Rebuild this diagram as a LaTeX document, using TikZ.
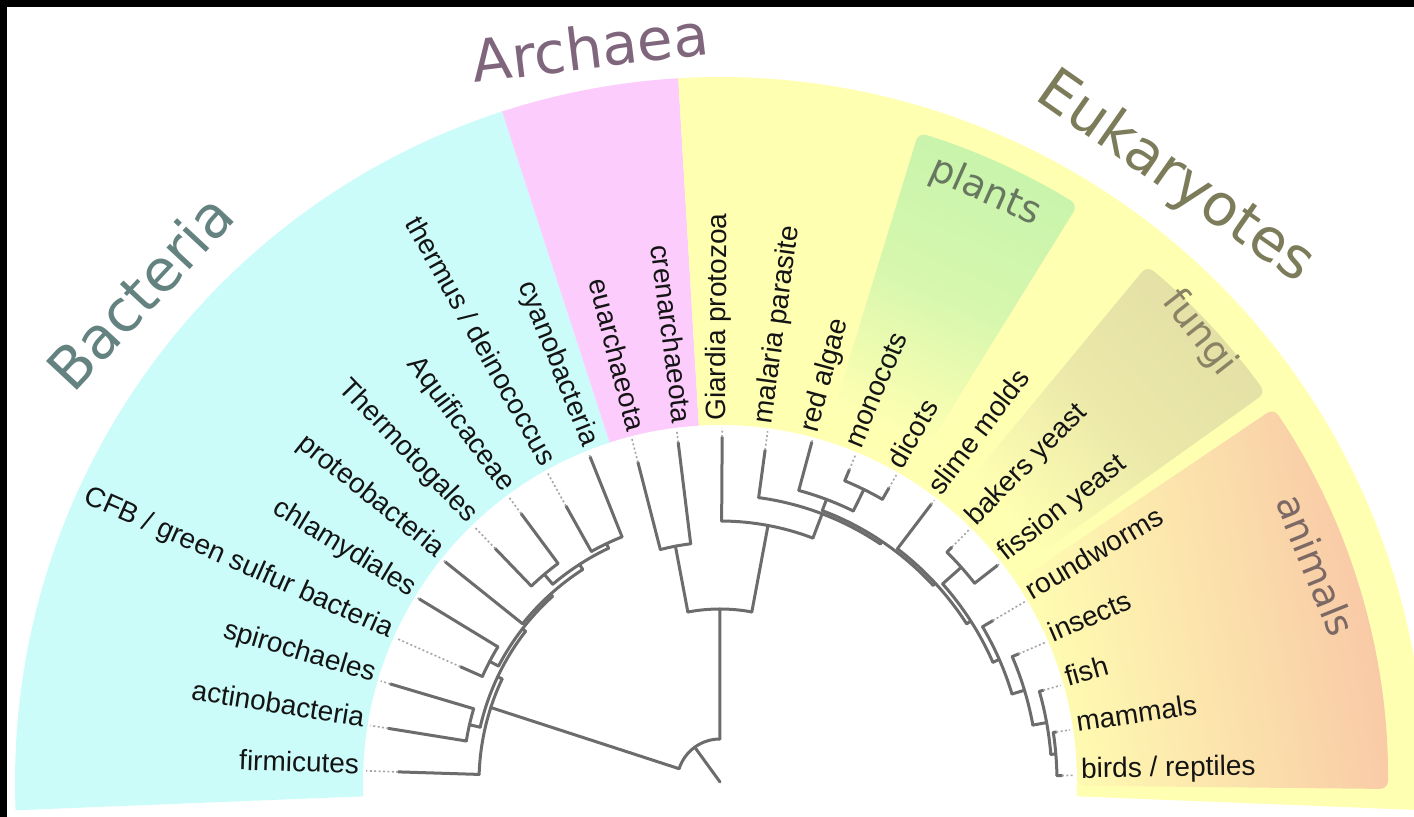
\documentclass[tikz,border=0pt]{standalone}
\usepackage{fontspec}
\setmainfont{Liberation Sans}
\newfontfamily\bigfont{DejaVu Sans}
\definecolor{cyanC}{RGB}{203,252,250}
\definecolor{pinkC}{RGB}{252,204,252}
\definecolor{yellowC}{RGB}{255,255,178}
\definecolor{plantC}{RGB}{200,244,172}
\definecolor{fungiC}{RGB}{228,224,166}
\definecolor{animC}{RGB}{248,198,166}
\definecolor{treeC}{RGB}{108,108,108}
\definecolor{dotC}{RGB}{165,165,165}
\definecolor{labC}{RGB}{20,20,20}
\definecolor{bactT}{RGB}{100,130,128}
\definecolor{archT}{RGB}{128,102,124}
\definecolor{eukT}{RGB}{124,124,90}
\definecolor{plantT}{RGB}{104,120,96}
\definecolor{fungiT}{RGB}{138,130,100}
\definecolor{animT}{RGB}{124,104,100}

\tikzset{
  branch/.style={draw=treeC, line width=1.5pt, line cap=round, line join=round},
  dotline/.style={draw=dotC, line width=0.8pt, dash pattern=on 1pt off 1.2pt},
  leaflab/.style={inner sep=0pt, text=labC, font=\fontsize{14}{16}\selectfont},
  biglab/.style={inner sep=0pt, font=\bigfont\fontsize{29}{32}\selectfont},
  sublab/.style={inner sep=0pt, font=\bigfont\fontsize{19}{22}\selectfont},
}

\newcommand{\LeafR}[5]{%
  \coordinate (#1b) at (#2:#3);
  \coordinate (#1t) at (#2:#4);
  \coordinate (#1d) at (#2:354);
  \draw[branch] (#1b) -- (#1t);
  \draw[dotline] (#1t) -- (#1d);
  \node[leaflab, anchor=base west, rotate=#2] (#1) at (#2:361) {\raisebox{-1.5pt}{#5}};
}
\newcommand{\LeafL}[5]{%
  \coordinate (#1b) at (#2:#3);
  \coordinate (#1t) at (#2:#4);
  \coordinate (#1d) at (#2:354);
  \draw[branch] (#1b) -- (#1t);
  \draw[dotline] (#1t) -- (#1d);
  \node[leaflab, anchor=base east, rotate=#2-180] (#1) at (#2:361) {\raisebox{-1.5pt}{#5}};
}
\newcommand{\Inner}[6]{%
  \coordinate (#1) at (#2:#3);
  \coordinate (#1p) at (#2:#4);
  \coordinate (#1s) at (#5:#3);
  \draw[branch] (#1p) -- (#1);
  \draw[branch] (#1s) arc[start angle=#5, end angle=#6, radius=#3];
}

\begin{document}
\begin{tikzpicture}[x=0.5pt,y=0.5pt]
\clip (0,0) rectangle (1414,817);
\fill[white] (0,0) rectangle (1414,817);
\begin{scope}[shift={(720,35)}]
  % main sectors
  \fill[cyanC] (182.3:357) -- (182.3:705) arc[start angle=182.3, end angle=108, radius=705]
     -- (108:357) arc[start angle=108, end angle=182.3, radius=357] -- cycle;
  \fill[pinkC] (108:357) -- (108:705) arc[start angle=108, end angle=93.4, radius=705]
     -- (93.4:357) arc[start angle=93.4, end angle=108, radius=357] -- cycle;
  \fill[yellowC] (93.4:357) -- (93.4:705) arc[start angle=93.4, end angle=-2.3, radius=705]
     -- (-2.3:357) arc[start angle=-2.3, end angle=93.4, radius=357] -- cycle;
  % sub-regions
  \shade[top color=plantC, bottom color=yellowC, middle color=plantC!75!yellowC, shading angle=-24, rounded corners=4pt]
     (58.2:380) -- (58.2:679) arc[start angle=58.2, end angle=73, radius=679]
     -- (73:380) arc[start angle=73, end angle=58.2, radius=380] -- cycle;
  \shade[top color=fungiC, bottom color=yellowC, middle color=fungiC!75!yellowC, shading angle=-47, rounded corners=4pt]
     (35.5:380) -- (35.5:670) arc[start angle=35.5, end angle=50.4, radius=670]
     -- (50.4:380) arc[start angle=50.4, end angle=35.5, radius=380] -- cycle;
  \shade[top color=animC, bottom color=yellowC, middle color=animC!50!yellowC, shading angle=-80, rounded corners=4pt]
     (-0.6:357) -- (-0.6:668) arc[start angle=-0.6, end angle=34, radius=668]
     -- (34:357) arc[start angle=34, end angle=-0.6, radius=357] -- cycle;

  % group labels
  \node[biglab, text=bactT, rotate=47] (bact) at (-580,490) {Bacteria};
  \node[biglab, text=archT, rotate=7] (arch) at (-130,735) {Archaea};
  \node[biglab, text=eukT, rotate=-35] (euk) at (455,604) {Eukaryotes};
  \node[sublab, text=plantT, rotate=-24] (plants) at (265,590) {plants};
  \node[sublab, text=fungiT, rotate=-52] (fungi) at (479,449) {fungi};
  \node[sublab, text=animT, rotate=-68] (animals) at (596,217) {animals};

  % leaves
  \LeafL{l0}{178.20}{241}{322}{firmicutes}
  \LeafL{l1}{170.82}{257}{336}{actinobacteria}
  \LeafL{l2}{163.44}{257}{344}{spirochaeles}
  \LeafL{l3}{156.06}{260}{284}{CFB / green sulfur bacteria}
  \LeafL{l4}{148.68}{260}{352}{chlamydiales}
  \LeafL{l5}{141.30}{253}{352}{proteobacteria}
  \LeafL{l6}{133.92}{272}{324}{Thermotogales}
  \LeafL{l7}{126.54}{272}{334}{Aquificaceae}
  \LeafL{l8}{119.16}{264}{316}{thermus / deinococcus}
  \LeafL{l9}{111.78}{264}{350}{cyanobacteria}
  \LeafL{l10}{104.40}{240}{330}{euarchaeota}
  \LeafL{l11}{97.02}{240}{342}{crenarchaeota}
  \LeafR{l12}{89.64}{261}{345}{Giardia protozoa}
  \LeafR{l13}{82.26}{287}{335}{malaria parasite}
  \LeafR{l14}{74.88}{302}{352}{red algae}
  \LeafR{l15}{67.50}{326}{338}{monocots}
  \LeafR{l16}{60.12}{326}{339}{dicots}
  \LeafR{l17}{52.74}{293}{349}{slime molds}
  \LeafR{l18}{45.36}{323}{330}{bakers yeast}
  \LeafR{l19}{37.98}{323}{352}{fission yeast}
  \LeafR{l20}{30.60}{305}{317}{roundworms}
  \LeafR{l21}{23.22}{318}{325}{insects}
  \LeafR{l22}{15.84}{332}{336}{fish}
  \LeafR{l23}{8.46}{337}{340}{mammals}
  \LeafR{l24}{1.08}{337}{342}{birds / reptiles}

  % internal nodes: name, angle, radius, parent radius, arc from, arc to
  \Inner{Pas}{167.13}{257}{246}{170.82}{163.44}
  \Inner{Pcc}{152.37}{260}{250}{156.06}{148.68}
  \Inner{Pta}{130.23}{272}{259}{133.92}{126.54}
  \Inner{Pts}{115.47}{264}{259}{119.16}{111.78}
  \Inner{Qa}{122.85}{259}{253}{130.23}{115.47}
  \Inner{Qb}{132.08}{253}{250}{141.30}{122.85}
  \Inner{Qc}{142.22}{250}{246}{152.37}{132.08}
  \Inner{Qd}{154.68}{246}{241}{167.13}{142.22}
  \Inner{Qe}{162.00}{241}{43}{178.20}{154.68}
  \Inner{Arch}{100.71}{240}{173}{104.40}{97.02}
  \Inner{MD}{63.81}{326}{302}{67.50}{60.12}
  \Inner{RMD}{69.35}{302}{290}{74.88}{63.81}
  \Inner{MB}{4.77}{337}{332}{8.46}{1.08}
  \Inner{FMB}{10.31}{332}{318}{15.84}{4.77}
  \Inner{IFMB}{16.77}{318}{305}{23.22}{10.31}
  \Inner{Anim}{23.69}{305}{298}{30.60}{16.77}
  \Inner{Fung}{41.67}{323}{298}{45.36}{37.98}
  \Inner{FA}{32.68}{298}{293}{41.67}{23.69}
  \Inner{SFA}{42.71}{293}{290}{52.74}{32.68}
  \Inner{Yn}{56.03}{290}{287}{69.35}{42.71}
  \Inner{Eb}{69.15}{287}{261}{82.26}{56.03}
  \Inner{Ea}{79.40}{261}{173}{89.64}{69.15}
  \Inner{AE}{90.06}{173}{43}{100.71}{79.40}
  % root
  \coordinate (ctr) at (0,0);
  \coordinate (root) at (126:43);
  \coordinate (roots) at (162:43);
  \draw[branch] (ctr) -- (root);
  \draw[branch] (roots) arc[start angle=162, end angle=90.06, radius=43];
\end{scope}
\fill[black] (0,810) rectangle (1414,817);
\fill[black] (0,0) rectangle (7,817);
\end{tikzpicture}
\end{document}
